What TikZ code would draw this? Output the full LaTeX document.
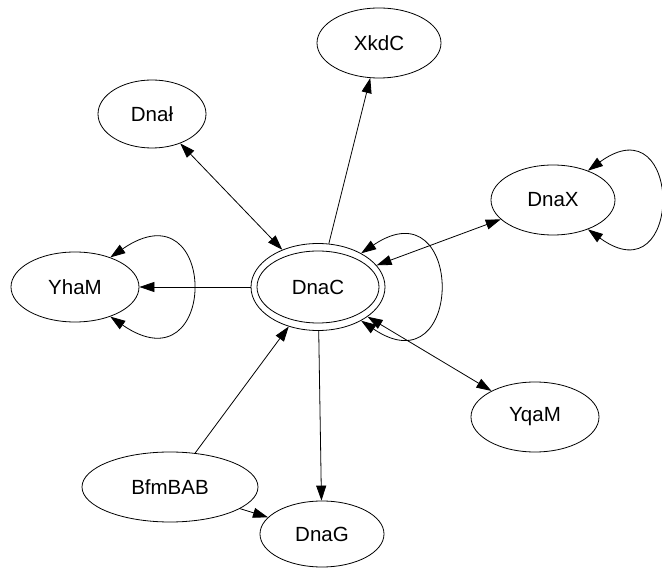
\documentclass[tikz,border=0pt]{standalone}
\usepackage{fontspec}
\setmainfont{Liberation Sans}
\usetikzlibrary{arrows.meta,shapes.geometric}
\begin{document}
\begin{tikzpicture}[x=1pt,y=1pt,
  prot/.style={draw, ellipse, line width=0.8pt, inner sep=0pt,
    font=\fontsize{20.5}{24}\selectfont},
  link/.style={line width=0.8pt, -{Triangle[length=15pt,width=10pt]}},
  mutual/.style={line width=0.8pt,
    {Triangle[length=15pt,width=10pt]}-{Triangle[length=15pt,width=10pt]}},
]
\useasboundingbox (0,0) rectangle (662,568);

% proteins
\node[prot, minimum width=124pt, minimum height=70pt] (XkdC)   at (379,525) {XkdC};
\node[prot, minimum width=108pt, minimum height=68pt] (DnaI)   at (152,454) {Dnał};
\node[prot, minimum width=124pt, minimum height=70pt] (DnaX)   at (553,368) {DnaX};
\node[prot, minimum width=128pt, minimum height=70pt] (YhaM)   at (75,281)  {YhaM};
\node[prot, minimum width=134pt, minimum height=87pt] (DnaC)   at (318,281) {DnaC};
\node[prot, minimum width=128pt, minimum height=70pt] (YqaM)   at (535,151) {YqaM};
\node[prot, minimum width=176pt, minimum height=70pt] (BfmBAB) at (170,81)  {BfmBAB};
\node[prot, minimum width=124pt, minimum height=66pt] (DnaG)   at (322,34)  {DnaG};

% inner ring of the central protein
\draw[line width=0.8pt] (DnaC.center) ellipse [x radius=61pt, y radius=36pt];

% interactions
\draw[mutual] (DnaI) -- (DnaC);
\draw[link]   (DnaC) -- (XkdC);
\draw[mutual] (DnaC) -- (DnaX);
\draw[link]   (DnaC) -- (YhaM);
\draw[mutual] (DnaC) -- (YqaM);
\draw[link]   (BfmBAB) -- (DnaC);
\draw[link]   (DnaC) -- (DnaG);
\draw[link]   (BfmBAB) -- (DnaG);

% self interactions
\draw[mutual] (YhaM.40) .. controls +(109,75) and +(109,-75) .. (YhaM.-40);
\draw[mutual] (DnaX.40) .. controls +(96,70) and +(96,-70) .. (DnaX.-40);
\draw[mutual] (DnaC.38) .. controls +(104,70) and +(104,-70) .. (DnaC.-38);
\end{tikzpicture}
\end{document}
